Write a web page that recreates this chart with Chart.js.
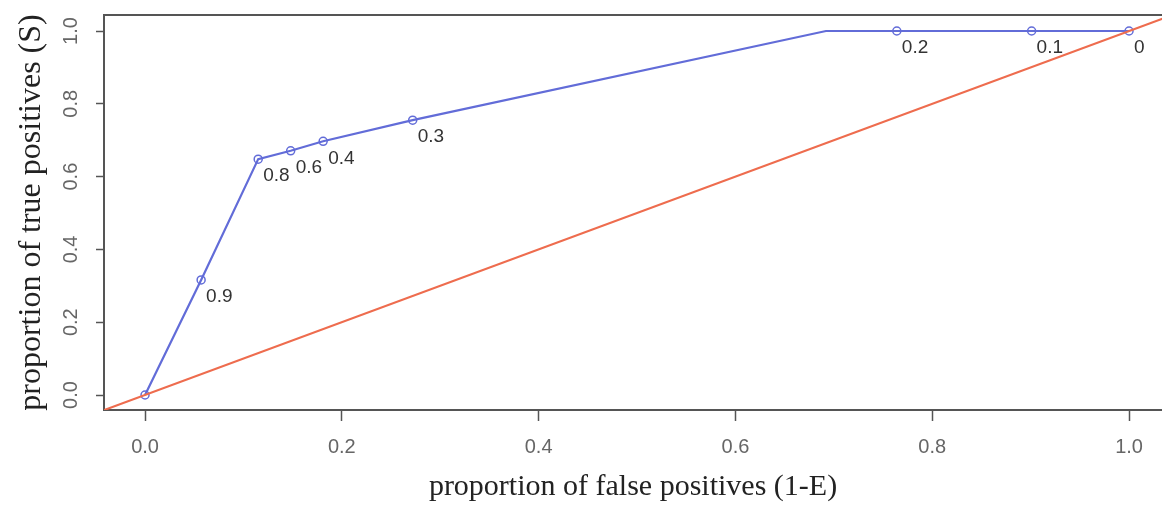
<!DOCTYPE html>
<html>
<head>
<meta charset="utf-8">
<script src="https://cdn.jsdelivr.net/npm/chart.js@4/dist/chart.umd.min.js"></script>
<style>
  html, body { margin: 0; padding: 0; background: #fff; }
  #wrap { width: 1162px; height: 509px; }
</style>
</head>
<body>
<div id="wrap"><canvas id="c" width="1162" height="509"></canvas></div>
<script>
// ROC curve data (false positive proportion vs true positive proportion)
const fpr     = [0, 0.057, 0.115, 0.148, 0.181, 0.272, 0.692, 0.764, 0.901, 1.0];
const tpr     = [0, 0.316, 0.648, 0.671, 0.697, 0.755, 1.0, 1.0, 1.0, 1.0];
const cutoffs = ["", "0.9", "0.8", "0.6", "0.4", "0.3", null, "0.2", "0.1", "0"];
// reference diagonal y = x
const diagX = [-0.1, 1.1];
const diagY = [-0.1, 1.1];
// axis ticks
const xTicks = [0, 0.2, 0.4, 0.6, 0.8, 1.0];
const yTicks = [0, 0.2, 0.4, 0.6, 0.8, 1.0];
const xTitle = "proportion of false positives (1-E)";
const yTitle = "proportion of true positives (S)";

const BLUE = '#626cd8';
const RED = '#ee6c4e';
const AXIS = '#555555';

const rocPoints = fpr.map((x, i) => ({ x: x, y: tpr[i] }));
const diagPoints = diagX.map((x, i) => ({ x: x, y: diagY[i] }));

const topBorder = {
  id: 'topBorder',
  afterDraw(chart) {
    const { ctx, chartArea } = chart;
    ctx.save();
    ctx.strokeStyle = AXIS;
    ctx.lineWidth = 2;
    ctx.beginPath();
    ctx.moveTo(chartArea.left - 1, chartArea.top);
    ctx.lineTo(chartArea.right, chartArea.top);
    ctx.stroke();
    ctx.restore();
  }
};

const cutoffLabels = {
  id: 'cutoffLabels',
  afterDatasetsDraw(chart) {
    const { ctx, scales } = chart;
    ctx.save();
    ctx.font = '19px "Liberation Sans", Arial, sans-serif';
    ctx.fillStyle = '#333';
    ctx.textAlign = 'left';
    ctx.textBaseline = 'middle';
    cutoffs.forEach((lab, i) => {
      if (!lab) return;
      const px = scales.x.getPixelForValue(fpr[i]);
      const py = scales.y.getPixelForValue(tpr[i]);
      ctx.fillText(lab, px + 5, py + 17);
    });
    ctx.restore();
  }
};

new Chart(document.getElementById('c'), {
  type: 'scatter',
  data: {
    datasets: [
      {
        label: 'ROC',
        data: rocPoints,
        showLine: true,
        borderColor: BLUE,
        borderWidth: 2.2,
        pointRadius: cutoffs.map(c => (c === null ? 0 : 4)),
        pointBorderColor: BLUE,
        pointBackgroundColor: 'rgba(255,255,255,0)',
        pointBorderWidth: 1.5,
        order: 2
      },
      {
        label: 'diagonal',
        data: diagPoints,
        showLine: true,
        borderColor: RED,
        borderWidth: 2,
        pointRadius: 0,
        order: 1
      }
    ]
  },
  options: {
    responsive: false,
    animation: false,
    layout: { autoPadding: false, padding: { top: 15, right: 0, bottom: 0, left: 0 } },
    plugins: { legend: { display: false }, tooltip: { enabled: false } },
    scales: {
      x: {
        type: 'linear',
        min: -0.0417,
        max: 1.0335,
        afterFit(scale) {
          scale.height = 99;
          scale.paddingLeft = 0; scale.paddingRight = 0;
        },
        afterBuildTicks(scale) { scale.ticks = xTicks.map(v => ({ value: v })); },
        border: { display: true, color: AXIS, width: 2 },
        grid: { display: true, drawOnChartArea: false, drawTicks: true, tickLength: 11, tickColor: AXIS, tickWidth: 1.5 },
        ticks: {
          padding: 14,
          color: '#666',
          font: { family: '"Liberation Sans", Arial, sans-serif', size: 20 },
          maxRotation: 0,
          callback: v => Number(v).toFixed(1)
        },
        title: {
          display: true,
          text: xTitle,
          color: '#222',
          font: { family: '"Liberation Serif", "Times New Roman", serif', size: 30 },
          padding: { top: 0, bottom: 4 }
        }
      },
      y: {
        type: 'linear',
        min: -0.0412,
        max: 1.044,
        afterFit(scale) {
          scale.width = 104;
          scale.paddingTop = 0; scale.paddingBottom = 0;
        },
        afterBuildTicks(scale) { scale.ticks = yTicks.map(v => ({ value: v })); },
        border: { display: true, color: AXIS, width: 2 },
        grid: { display: true, drawOnChartArea: false, drawTicks: true, tickLength: 8, tickColor: AXIS, tickWidth: 1.5 },
        ticks: {
          padding: 11,
          minRotation: 90,
          maxRotation: 90,
          crossAlign: 'center',
          color: '#666',
          font: { family: '"Liberation Sans", Arial, sans-serif', size: 20 },
          callback: v => Number(v).toFixed(1)
        },
        title: {
          display: true,
          text: yTitle,
          color: '#222',
          font: { family: '"Liberation Serif", "Times New Roman", serif', size: 32 },
          padding: { top: 12, bottom: 0 }
        }
      }
    }
  },
  plugins: [topBorder, cutoffLabels]
});
</script>
</body>
</html>
